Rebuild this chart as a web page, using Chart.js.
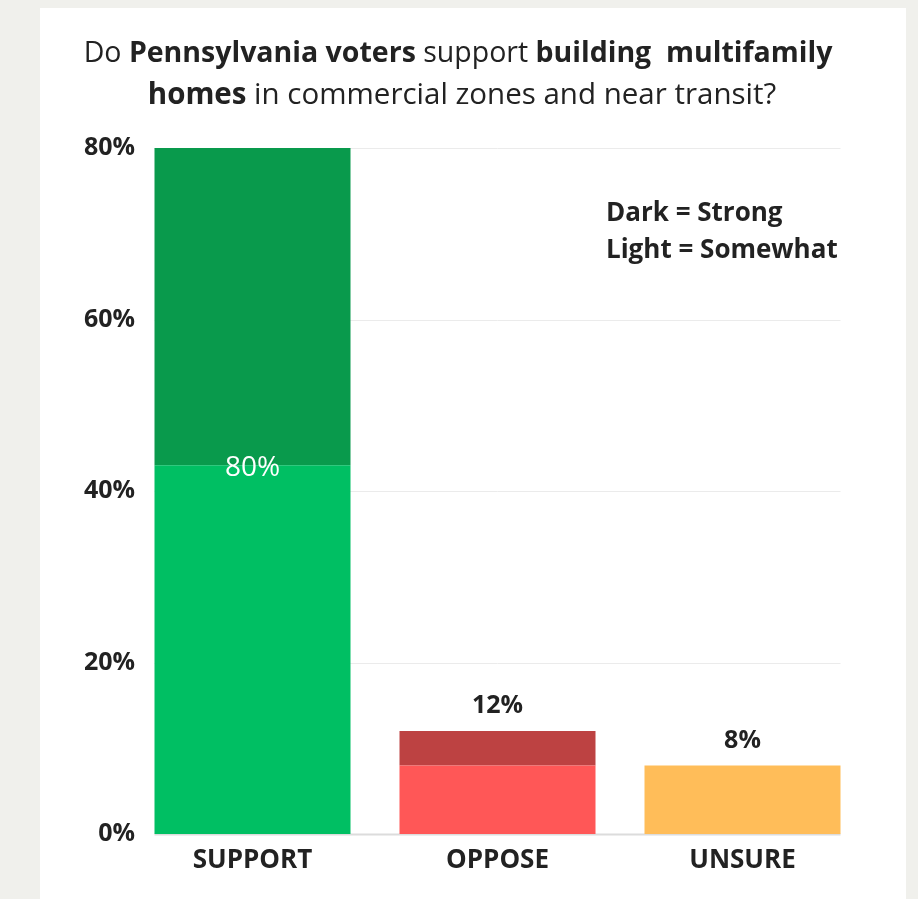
<!DOCTYPE html>
<html>
<head>
<meta charset="utf-8">
<script src="https://cdn.jsdelivr.net/npm/chart.js@4/dist/chart.umd.min.js"></script>
<style>
  html, body { margin: 0; padding: 0; background: #f0f0ec; width: 918px; height: 899px; overflow: hidden; }
  #card { position: absolute; left: 40px; top: 8px; width: 866px; height: 891px; background: #ffffff; }
  #c { position: absolute; left: 0; top: 0; }
</style>
</head>
<body>
<div id="card"></div>
<canvas id="c" width="918" height="899"></canvas>
<script>
const categories = ['SUPPORT', 'OPPOSE', 'UNSURE'];
const somewhatValues = [43, 8, 8];
const strongValues = [37, 4, 0];
const somewhatColors = ['#00bf63', '#ff5757', '#ffbd59'];
const strongColors = ['#099a4c', '#bd4242', '#ffbd59'];
const yTicks = [0, 20, 40, 60, 80];
const titleLine1 = [['Do ', false], ['Pennsylvania voters', true], [' support ', false], ['building  multifamily', true]];
const titleLine2 = [['homes', true], [' in commercial zones and near transit?', false]];
const legendLines = ['Dark = Strong', 'Light = Somewhat'];

const FONT = '"Open Sans", "Liberation Sans", sans-serif';
const TEXT = '#222222';

function drawRich(ctx, parts, cx, y, size) {
  let total = 0;
  const widths = parts.map(([t, b]) => {
    ctx.font = (b ? '700 ' : '400 ') + size + 'px ' + FONT;
    const w = ctx.measureText(t).width; total += w; return w;
  });
  let x = cx - total / 2;
  parts.forEach(([t, b], i) => {
    ctx.font = (b ? '700 ' : '400 ') + size + 'px ' + FONT;
    ctx.fillText(t, x, y);
    x += widths[i];
  });
}

const overlay = {
  id: 'overlay',
  beforeDatasetsDraw(chart) {
    const ctx = chart.ctx, x = chart.scales.x, y = chart.scales.y;
    const meta = chart.getDatasetMeta(0);
    const half = meta.data[0].width / 2;
    const left = x.getPixelForValue(0) - half;
    const right = x.getPixelForValue(categories.length - 1) + half;
    ctx.save();
    yTicks.forEach(v => {
      const py = Math.round(y.getPixelForValue(v)) + 0.5;
      ctx.strokeStyle = v === 0 ? '#dcdcdc' : '#ebebeb';
      ctx.lineWidth = v === 0 ? 2 : 1;
      ctx.beginPath(); ctx.moveTo(left, py); ctx.lineTo(right, py); ctx.stroke();
    });
    // y tick labels (drawn here so they can sit slightly past the plot edge)
    ctx.fillStyle = TEXT;
    ctx.textAlign = 'right';
    ctx.textBaseline = 'middle';
    ctx.font = '700 25px ' + FONT;
    yTicks.forEach(v => {
      ctx.fillText(v + '%', chart.chartArea.left + 5, y.getPixelForValue(v));
    });
    ctx.restore();
  },
  afterDatasetsDraw(chart) {
    const ctx = chart.ctx, x = chart.scales.x, y = chart.scales.y;
    ctx.save();
    ctx.textAlign = 'center';
    ctx.textBaseline = 'middle';
    categories.forEach((c, i) => {
      const total = somewhatValues[i] + strongValues[i];
      const px = x.getPixelForValue(i);
      if (i === 0) {
        ctx.fillStyle = '#ffffff';
        ctx.font = '500 28px ' + FONT;
        ctx.fillText(total + '%', px, y.getPixelForValue(somewhatValues[i]) + 3);
      } else {
        ctx.fillStyle = TEXT;
        ctx.font = '700 25px ' + FONT;
        ctx.fillText(total + '%', px, y.getPixelForValue(total) - 25);
      }
    });
    // title
    ctx.fillStyle = TEXT;
    ctx.textAlign = 'left';
    drawRich(ctx, titleLine1, 458, 54, 28.5);
    drawRich(ctx, titleLine2, 462, 96, 29.5);
    // legend note
    ctx.font = '700 26px ' + FONT;
    ctx.fillText(legendLines[0], 606, 214);
    ctx.fillText(legendLines[1], 606, 251);
    ctx.restore();
  }
};

new Chart(document.getElementById('c'), {
  type: 'bar',
  data: {
    labels: categories,
    datasets: [
      { label: 'Somewhat', data: somewhatValues, backgroundColor: somewhatColors, borderWidth: 0, categoryPercentage: 0.8, barPercentage: 1.0 },
      { label: 'Strong', data: strongValues, backgroundColor: strongColors, borderWidth: 0, categoryPercentage: 0.8, barPercentage: 1.0 }
    ]
  },
  options: {
    responsive: false,
    animation: false,
    layout: { padding: { top: 148, right: 53, left: 0, bottom: 0 } },
    plugins: { legend: { display: false }, tooltip: { enabled: false }, title: { display: false } },
    scales: {
      x: {
        stacked: true,
        grid: { display: false, drawTicks: false },
        border: { display: false },
        ticks: { color: TEXT, font: { family: FONT, size: 26, weight: '700' }, padding: 11 },
        afterFit(s) { s.height = 65; }
      },
      y: {
        stacked: true,
        min: 0, max: 80,
        grid: { display: false, drawTicks: false },
        border: { display: false },
        afterBuildTicks(s) { s.ticks = yTicks.map(v => ({ value: v })); },
        ticks: { display: false },
        afterFit(s) { s.width = 130; }
      }
    }
  },
  plugins: [overlay]
});
</script>
</body>
</html>
